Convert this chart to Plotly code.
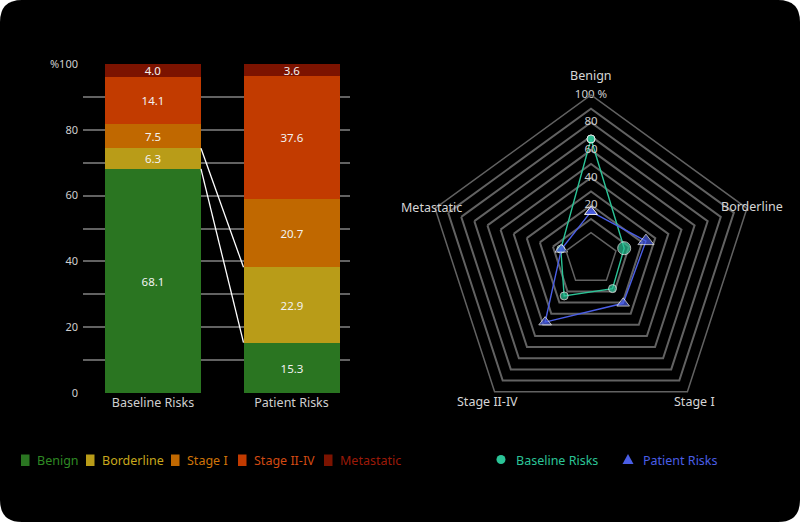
import math
import plotly.graph_objects as go

W, H = 800, 522

# ---------------- data ----------------
bar_categories = ["Baseline Risks", "Patient Risks"]
risk_classes = ["Benign", "Borderline", "Stage I", "Stage II-IV", "Metastatic"]
baseline_values = [68.1, 6.3, 7.5, 14.1, 4.0]
patient_values = [15.3, 22.9, 20.7, 37.6, 3.6]
y_tick_vals = [0, 20, 40, 60, 80, 100]
y_tick_text = ["0", "20", "40", "60", "80", "%100"]
radial_tick_vals = [20, 40, 60, 80, 100]
radial_tick_text = ["20", "40", "60", "80", "100 %"]

# ---------------- styles ----------------
bar_colors = ["#2a7521", "#b99c18", "#c06800", "#c23b00", "#7c1300"]
legend_text_colors = ["#2f8a24", "#c9a81c", "#d07408", "#d24a12", "#9c1a08"]
teal = "#2bc497"
blue = "#4a5ee6"
grid = "#626262"
label_col = "#cfcfcf"
FONT = "Noto Sans"
BAR_W = 0.693
ang_label_offset = [20, 5, 12, 12, 4]   # px outside the outer pentagon


def px(x):
    return x / W


def py(y):
    return 1 - y / H


fig = go.Figure()

# stacked bars
for i, name in enumerate(risk_classes):
    vals = [baseline_values[i], patient_values[i]]
    fig.add_trace(go.Bar(
        x=[0, 1], y=vals, name=name, width=BAR_W,
        marker=dict(color=bar_colors[i], line=dict(width=0)),
        texttemplate="%{y:.1f}", textposition="inside",
        insidetextanchor="middle",
        textfont=dict(color="#f2f2f2", size=11.5, family=FONT),
        showlegend=False, xaxis="x", yaxis="y", hoverinfo="skip",
    ))

# connector lines between stacked tops of Benign and Borderline
cum_base, cum_pat = 0.0, 0.0
for i in range(2):
    cum_base += baseline_values[i]
    cum_pat += patient_values[i]
    fig.add_trace(go.Scatter(
        x=[0 + BAR_W / 2, 1 - BAR_W / 2], y=[cum_base, cum_pat],
        mode="lines", line=dict(color="#ffffff", width=1.3),
        showlegend=False, hoverinfo="skip", xaxis="x", yaxis="y",
    ))

# radar
base_sizes = [8, 13, 8, 8, 8]
pat_sizes = [11, 14, 11, 11, 11]
fig.add_trace(go.Scatterpolar(
    r=baseline_values + [baseline_values[0]],
    theta=risk_classes + [risk_classes[0]],
    mode="lines+markers", name="Baseline Risks",
    line=dict(color=teal, width=1.4),
    marker=dict(symbol="circle", size=base_sizes + [base_sizes[0]], color=teal),
    showlegend=False, cliponaxis=False,
))
fig.add_trace(go.Scatterpolar(
    r=patient_values + [patient_values[0]],
    theta=risk_classes + [risk_classes[0]],
    mode="lines+markers", name="Patient Risks",
    line=dict(color=blue, width=1.4),
    marker=dict(symbol="triangle-up", size=pat_sizes + [pat_sizes[0]], color=blue),
    showlegend=False, cliponaxis=False,
))
# radial tick labels drawn on the Benign spoke
fig.add_trace(go.Scatterpolar(
    r=radial_tick_vals, theta=[risk_classes[0]] * len(radial_tick_vals),
    mode="text", text=radial_tick_text,
    textfont=dict(color=label_col, size=11.5, family=FONT),
    showlegend=False, cliponaxis=False, hoverinfo="skip",
))

# --- rounded black card ---
rx, ry = 22 / W, 22 / H
card = (f"M {rx},0 L {1-rx},0 Q 1,0 1,{ry} L 1,{1-ry} Q 1,1 {1-rx},1 "
        f"L {rx},1 Q 0,1 0,{1-ry} L 0,{ry} Q 0,0 {rx},0 Z")
shapes = [dict(type="path", path=card, xref="paper", yref="paper",
               fillcolor="#000000", line=dict(width=0), layer="below")]

annotations = []

R = 164
cx, cy = 591, 259

# category labels around the pentagon
for k, name in enumerate(risk_classes):
    ang = math.radians(90 - 72 * k)
    rr = R + ang_label_offset[k]
    lx = cx + rr * math.cos(ang)
    ly = cy - rr * math.sin(ang)
    annotations.append(dict(text=name, xref="paper", yref="paper",
                            x=px(lx), y=py(ly), xanchor="center", yanchor="middle",
                            showarrow=False,
                            font=dict(color="#d6d6d6", size=12.5, family=FONT)))

# bar legend
sq_x = [21, 86, 171, 238, 324]
for i, name in enumerate(risk_classes):
    shapes.append(dict(type="rect", xref="paper", yref="paper",
                       x0=px(sq_x[i]), x1=px(sq_x[i] + 8.5),
                       y0=py(466), y1=py(454.5),
                       fillcolor=bar_colors[i], line=dict(width=0)))
    annotations.append(dict(text=name, xref="paper", yref="paper",
                            x=px(sq_x[i] + 14), y=py(460.5),
                            xanchor="left", yanchor="middle", showarrow=False,
                            font=dict(color=legend_text_colors[i], size=12.5, family=FONT)))
# radar legend
shapes.append(dict(type="circle", xref="paper", yref="paper",
                   x0=px(496.5), x1=px(505.5), y0=py(464), y1=py(455),
                   fillcolor=teal, line=dict(width=0)))
annotations.append(dict(text="Baseline Risks", xref="paper", yref="paper",
                        x=px(514), y=py(460), xanchor="left", yanchor="middle",
                        showarrow=False, font=dict(color=teal, size=12.5, family=FONT)))
tx, ty = 628, 459
shapes.append(dict(type="path", xref="paper", yref="paper",
                   path=f"M {px(tx-5.5)},{py(ty+5)} L {px(tx+5.5)},{py(ty+5)} L {px(tx)},{py(ty-5)} Z",
                   fillcolor=blue, line=dict(width=0)))
annotations.append(dict(text="Patient Risks", xref="paper", yref="paper",
                        x=px(641), y=py(460), xanchor="left", yanchor="middle",
                        showarrow=False, font=dict(color=blue, size=12.5, family=FONT)))

fig.update_layout(
    width=W, height=H,
    margin=dict(l=0, r=0, t=0, b=0, pad=0, autoexpand=False),
    paper_bgcolor="#ffffff", plot_bgcolor="#000000",
    barmode="stack", bargap=0,
    uniformtext=dict(minsize=11, mode="show"),
    font=dict(family=FONT, color=label_col),
    showlegend=False,
    xaxis=dict(domain=[px(83), px(350)], range=[-0.505, 1.422], automargin=False,
               tickvals=[0, 1], ticktext=bar_categories,
               tickfont=dict(size=12.5, color=label_col, family=FONT),
               showgrid=False, zeroline=False, showline=False, ticks=""),
    yaxis=dict(domain=[py(393), py(64)], range=[0, 100], automargin=False,
               tickvals=y_tick_vals, ticktext=y_tick_text,
               tickfont=dict(size=11, color=label_col, family=FONT),
               showgrid=True, gridcolor=grid, gridwidth=1.5,
               minor=dict(dtick=10, showgrid=True, gridcolor=grid, gridwidth=1.5),
               zeroline=False, showline=False, ticks="", ticklabelstandoff=4),
    polar=dict(
        domain=dict(x=[px(cx - R), px(cx + R)], y=[py(cy + R), py(cy - R)]),
        bgcolor="#000000", gridshape="linear", hole=0.16,
        radialaxis=dict(range=[0, 100], dtick=10, tick0=0, showticklabels=False,
                        showline=False, ticks="", gridcolor=grid, gridwidth=1.5,
                        angle=90),
        angularaxis=dict(rotation=90, direction="clockwise",
                         categoryorder="array", categoryarray=risk_classes,
                         showgrid=False, showline=True, linecolor=grid, linewidth=1.5,
                         ticks="", showticklabels=False),
    ),
    shapes=shapes, annotations=annotations,
)

fig.write_html(
    "out.html",
    config={"displayModeBar": False},
    post_script="document.documentElement.style.margin='0';document.body.style.margin='0';document.body.style.padding='0';",
)
